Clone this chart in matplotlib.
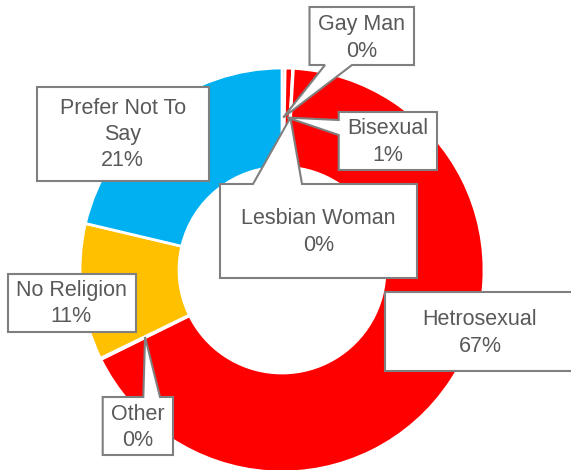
import numpy as np
import matplotlib
matplotlib.use("Agg")
import matplotlib.pyplot as plt
from matplotlib.patches import Polygon

plt.rcParams['font.family'] = ['Liberation Sans', 'DejaVu Sans']

# ---- data ----
categories = ["Gay Man", "Bisexual", "Lesbian Woman", "Hetrosexual",
              "Other", "No Religion", "Prefer Not To Say"]
values = [0.25, 0.6, 0.05, 66.8, 0.1, 10.9, 21.3]
label_names = ["Gay Man", "Bisexual", "Lesbian Woman", "Hetrosexual",
               "Other", "No Religion", "Prefer Not To\nSay"]
colors = ["#FF0000", "#FF0000", "#FF0000", "#FF0000",
          "#FF0000", "#FFC000", "#00B0F0"]

W, H = 571, 470
fig = plt.figure(figsize=(W / 100, H / 100), dpi=100)
ax = fig.add_axes([0, 0, 1, 1])

def Y(y):
    return H - y

cx, cy = 282, Y(270)
R_out, R_in = 202, 103

wedges, _ = ax.pie(values, colors=colors, startangle=90, counterclock=False,
                   center=(cx, cy), radius=R_out,
                   wedgeprops=dict(width=R_out - R_in, edgecolor='white',
                                   linewidth=2))

ax.set_xlim(0, W)
ax.set_ylim(0, H)
ax.set_aspect('equal')
ax.axis('off')

def anchor(i):
    w = wedges[i]
    mid = np.deg2rad((w.theta1 + w.theta2) / 2)
    r = (R_out + R_in) / 2
    return cx + r * np.cos(mid), cy + r * np.sin(mid)

# layout of callout boxes (image pixel coords: x0, y0, x1, y1), text centre, wedge
boxes = {
    "Gay Man":          dict(box=(309.5, 7, 414, 65), txt=(362, 38), edge='bottom', base=(325, 352)),
    "Bisexual":         dict(box=(338.7, 112, 437, 170), txt=(388, 142), edge='left', base=(120, 135)),
    "Lesbian Woman":    dict(box=(220, 184, 417, 278), txt=(318.6, 232), edge='top', base=(253, 302)),
    "Hetrosexual":      dict(box=(385, 292, 575, 371), txt=(480, 333), edge=None),
    "Other":            dict(box=(102.7, 397, 173, 455), txt=(137.6, 427.5), edge='top', base=(143.3, 160)),
    "No Religion":      dict(box=(7.6, 274, 136, 332), txt=(71.4, 303.5), edge=None),
    "Prefer Not To Say": dict(box=(37, 87, 208.7, 181), txt=(122.7, 134.5), edge=None),
}

for i, cat in enumerate(categories):
    spec = boxes[cat]
    x0, y0, x1, y1 = spec['box']
    tip = anchor(i)
    tipi = (tip[0], Y(tip[1]))  # image coords
    e = spec['edge']
    pts = [(x0, y0)]
    if e == 'top':
        a, b = spec['base']
        pts += [(a, y0), tipi, (b, y0)]
    pts.append((x1, y0))
    if e == 'right':
        a, b = spec['base']
        pts += [(x1, a), tipi, (x1, b)]
    pts.append((x1, y1))
    if e == 'bottom':
        a, b = spec['base']
        pts += [(b, y1), tipi, (a, y1)]
    pts.append((x0, y1))
    if e == 'left':
        a, b = spec['base']
        pts += [(x0, b), tipi, (x0, a)]
    poly = Polygon([(px, Y(py)) for px, py in pts], closed=True,
                   facecolor='white', edgecolor='#7F7F7F', linewidth=1.5,
                   joinstyle='miter', zorder=5)
    ax.add_patch(poly)
    txt = f"{label_names[i]}\n{values[i]:.0f}%"
    ax.text(spec['txt'][0], Y(spec['txt'][1]), txt, ha='center', va='center',
            fontsize=15.5, color='#595959', linespacing=1.32, zorder=6)

fig.savefig("out.png", dpi=100)
